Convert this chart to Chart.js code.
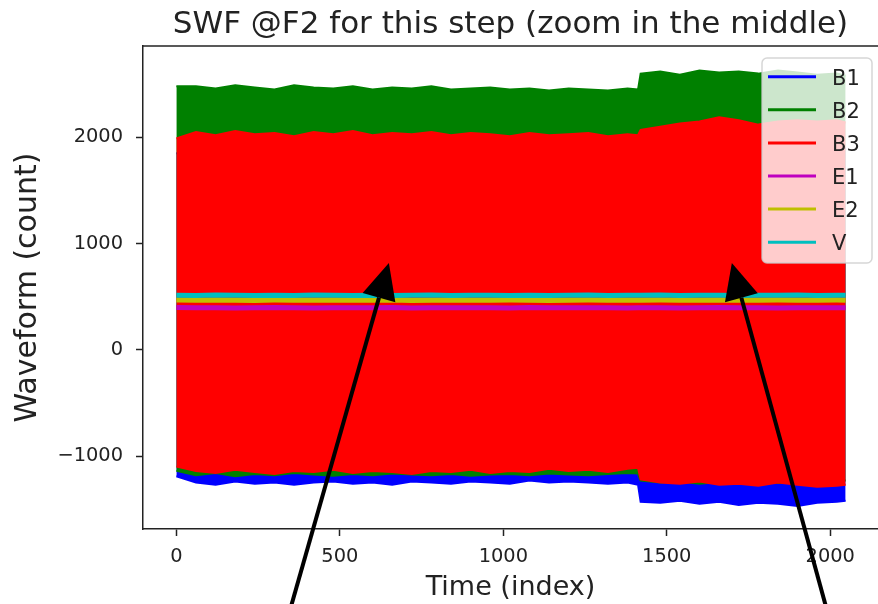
<!DOCTYPE html>
<html>
<head>
<meta charset="utf-8">
<script src="https://cdn.jsdelivr.net/npm/chart.js@4.4.0/dist/chart.umd.min.js"></script>
<style>
html,body{margin:0;padding:0;background:#fff;overflow:hidden}
#divGrafica{width:878px;height:604px;position:relative}
</style>
</head>
<body>
<div id="divGrafica"><canvas id="bar-chart"></canvas></div>
<script>
// muestras (indice) donde se leyeron las envolventes de cada senal
var muestras = [0,60,120,180,240,300,360,420,480,540,600,660,720,780,840,900,960,1020,1080,1140,1200,1260,1320,1380,1412,
                1420,1480,1540,1600,1660,1720,1780,1840,1900,1960,2020,2047];

var b1Alto = [1850,1860,1840,1850,1860,1850,1840,1850,1860,1850,1840,1850,1860,1850,1840,1850,1860,1850,1840,1850,1860,1850,1840,1850,1850,
              1900,1910,1900,1890,1910,1900,1890,1900,1910,1900,1890,1900];
var b1Bajo = [-1190,-1250,-1270,-1240,-1260,-1250,-1270,-1250,-1240,-1260,-1250,-1270,-1240,-1250,-1260,-1240,-1250,-1260,-1230,-1250,-1240,-1250,-1260,-1250,-1270,
              -1430,-1440,-1420,-1450,-1430,-1460,-1440,-1450,-1470,-1440,-1430,-1420];
var b2Alto = [2480,2480,2460,2490,2470,2450,2490,2470,2460,2480,2450,2470,2460,2480,2450,2460,2470,2450,2460,2440,2460,2450,2440,2460,2450,
              2600,2620,2590,2630,2610,2620,2600,2630,2610,2590,2600,2580];
var b2Bajo = [-1140,-1180,-1160,-1190,-1170,-1180,-1160,-1175,-1185,-1170,-1180,-1165,-1175,-1180,-1170,-1185,-1175,-1170,-1180,-1165,-1175,-1180,-1170,-1160,-1165,
              -1230,-1250,-1240,-1260,-1245,-1250,-1240,-1255,-1245,-1250,-1240,-1230];
var b3Alto = [1990,2050,2020,2060,2030,2040,2010,2050,2030,2060,2020,2040,2030,2050,2020,2040,2030,2010,2040,2020,2030,2040,2010,2030,2020,
              2070,2100,2130,2150,2190,2160,2120,2150,2160,2150,2160,2140];
var b3Bajo = [-1100,-1140,-1160,-1130,-1150,-1170,-1140,-1150,-1130,-1160,-1140,-1150,-1170,-1140,-1150,-1130,-1160,-1140,-1150,-1120,-1140,-1130,-1150,-1120,-1110,
              -1220,-1250,-1260,-1240,-1270,-1260,-1280,-1250,-1270,-1290,-1280,-1270];
var e1 = [398,395,397,394,396,398,395,394,397,396,395,398,394,396,397,395,396,394,398,395,396,397,395,394,396,
          395,397,394,396,398,395,396,394,397,395,396,395];
var e2 = [468,466,469,467,465,468,467,466,469,467,466,468,465,467,469,466,467,468,466,465,467,468,466,467,466,
          467,468,466,467,469,466,467,468,466,467,468,467];
var v = [514,512,515,513,511,514,512,515,513,512,514,511,513,515,512,514,513,511,514,512,513,515,512,514,513,
         513,515,512,514,513,511,514,513,515,512,514,513];

var ticksX = [0,500,1000,1500,2000];
var ticksY = [-1000,0,1000,2000];

var titulo = "SWF @F2 for this step (zoom in the middle)";
// flechas de anotacion en coordenadas de datos
var flechas = [ {desde:[339,-2543], hasta:[650,817]},
                {desde:[1998,-2543], hasta:[1699,817]} ];

var fuente = "'DejaVu Sans', sans-serif";

function serie(arr){
	return muestras.map(function(t,i){ return {x:t, y:arr[i]}; });
}
function banda(label,color,alto,bajo,orden){
	return [
		{label:label, data:serie(alto), borderColor:color, backgroundColor:color, borderWidth:2, fill:'+1', order:orden},
		{label:'', data:serie(bajo), borderColor:color, backgroundColor:color, borderWidth:2, fill:false, order:orden-0.1}
	];
}

var datasets = [].concat(
	banda('B1','#0000ff',b1Alto,b1Bajo,6),
	banda('B2','#008000',b2Alto,b2Bajo,5),
	banda('B3','#ff0000',b3Alto,b3Bajo,4),
	[{label:'E1', data:serie(e1), borderColor:'#bf00bf', backgroundColor:'#bf00bf', borderWidth:5, fill:false, order:3},
	 {label:'E2', data:serie(e2), borderColor:'#bfbf00', backgroundColor:'#bfbf00', borderWidth:5, fill:false, order:2},
	 {label:'V', data:serie(v), borderColor:'#00bfbf', backgroundColor:'#00bfbf', borderWidth:5, fill:false, order:1}]
);

var extras = {
	id:'extras',
	afterDraw:function(chart){
		var ctx = chart.ctx, a = chart.chartArea;
		var sx = chart.scales.x, sy = chart.scales.y;
		ctx.save();
		// linea superior del marco
		ctx.strokeStyle = '#222'; ctx.lineWidth = 1.5;
		ctx.beginPath(); ctx.moveTo(a.left, a.top); ctx.lineTo(a.right, a.top); ctx.stroke();

		// titulo centrado sobre el area
		ctx.fillStyle = '#222';
		ctx.font = "31px " + fuente;
		ctx.textAlign = 'center'; ctx.textBaseline = 'alphabetic';
		ctx.fillText(titulo, (a.left + a.right) / 2, 33);

		// leyenda
		var items = chart.data.datasets.filter(function(d){ return d.label !== ''; });
		var lx = 762, ly = 58, lw = 110, lh = 205;
		ctx.beginPath();
		ctx.roundRect(lx, ly, lw, lh, 5);
		ctx.fillStyle = 'rgba(255,255,255,0.8)'; ctx.fill();
		ctx.strokeStyle = 'rgba(204,204,204,0.8)'; ctx.lineWidth = 1.5; ctx.stroke();
		ctx.font = "21px " + fuente;
		ctx.textAlign = 'left';
		items.forEach(function(d,i){
			var y = 76.7 + i * 33.1;
			ctx.strokeStyle = d.borderColor; ctx.lineWidth = 3;
			ctx.beginPath(); ctx.moveTo(768, y); ctx.lineTo(816, y); ctx.stroke();
			ctx.fillStyle = '#222';
			ctx.fillText(d.label, 832, y + 8);
		});

		// flechas
		ctx.fillStyle = '#000'; ctx.strokeStyle = '#000';
		flechas.forEach(function(f){
			var x0 = sx.getPixelForValue(f.desde[0]), y0 = sy.getPixelForValue(f.desde[1]);
			var x1 = sx.getPixelForValue(f.hasta[0]), y1 = sy.getPixelForValue(f.hasta[1]);
			var ang = Math.atan2(y1 - y0, x1 - x0);
			var largo = 36, ancho = 17;
			var bx = x1 - largo * Math.cos(ang), by = y1 - largo * Math.sin(ang);
			ctx.lineWidth = 4;
			ctx.beginPath(); ctx.moveTo(x0, y0); ctx.lineTo(bx, by); ctx.stroke();
			ctx.beginPath();
			ctx.moveTo(x1, y1);
			ctx.lineTo(bx + ancho * Math.sin(ang), by - ancho * Math.cos(ang));
			ctx.lineTo(bx - ancho * Math.sin(ang), by + ancho * Math.cos(ang));
			ctx.closePath(); ctx.fill();
		});
		ctx.restore();
	}
};

function menos(val){ return String(val).replace('-', '\u2212'); }

var grafica = new Chart(document.getElementById("bar-chart"), {
	type:'line',
	data:{ datasets:datasets },
	options:{
		responsive:true,
		maintainAspectRatio:false,
		animation:false,
		events:[],
		layout:{ padding:{ top:46, left:0, right:0, bottom:0 } },
		elements:{ point:{ radius:0 }, line:{ tension:0 } },
		plugins:{ legend:{ display:false }, title:{ display:false }, tooltip:{ enabled:false } },
		scales:{
			x:{
				type:'linear', min:-102, max:2146,
				afterBuildTicks:function(s){ s.ticks = ticksX.map(function(t){ return {value:t}; }); },
				afterFit:function(s){ s.height = 75; },
				grid:{ drawOnChartArea:false, drawTicks:true, tickLength:7, color:'#222', tickWidth:1.5 },
				border:{ display:true, color:'#222', width:1.5 },
				ticks:{ color:'#222', padding:9, maxRotation:0, font:{ family:fuente, size:19.4 }, callback:menos },
				title:{ display:true, text:'Time (index)', color:'#222', font:{ family:fuente, size:27, lineHeight:1 }, padding:{ top:0, bottom:3 } }
			},
			y:{
				type:'linear', min:-1687, max:2860,
				afterBuildTicks:function(s){ s.ticks = ticksY.map(function(t){ return {value:t}; }); },
				afterFit:function(s){ s.width = 143; },
				grid:{ drawOnChartArea:false, drawTicks:true, tickLength:7, color:'#222', tickWidth:1.5 },
				border:{ display:true, color:'#222', width:1.5 },
				ticks:{ color:'#222', padding:13, font:{ family:fuente, size:19.4 }, callback:menos },
				title:{ display:true, text:'Waveform (count)', color:'#222', font:{ family:fuente, size:30, lineHeight:1.2 }, padding:{ top:10, bottom:0 } }
			}
		}
	},
	plugins:[extras]
});
</script>
</body>
</html>
